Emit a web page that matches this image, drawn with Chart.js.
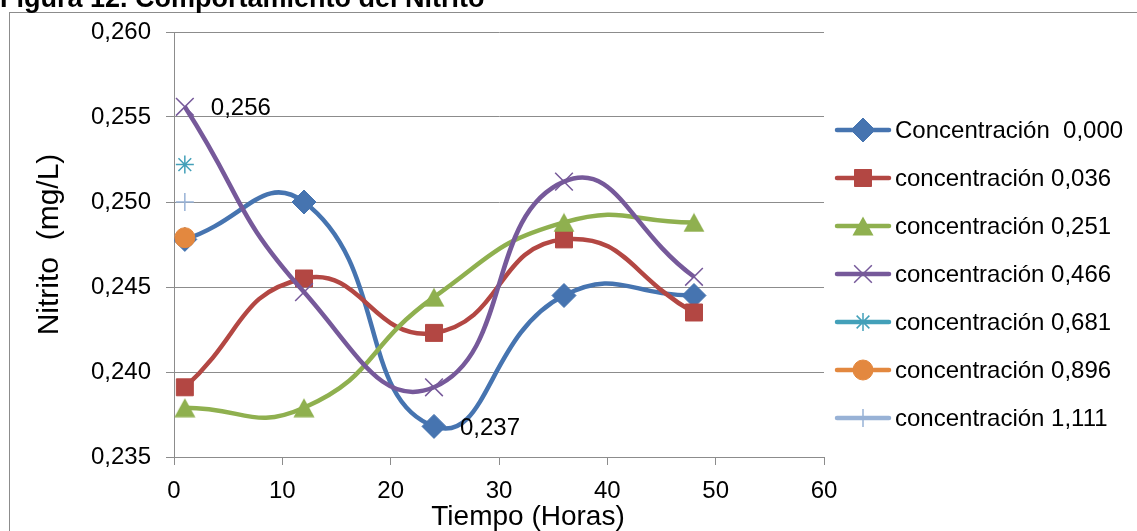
<!DOCTYPE html>
<html>
<head>
<meta charset="utf-8">
<script src="https://cdn.jsdelivr.net/npm/chart.js@4.4.1/dist/chart.umd.min.js"></script>
<style>
  html, body { margin: 0; padding: 0; background: #fff; overflow: hidden; }
  #wrap { position: relative; width: 1137px; height: 531px; }
</style>
</head>
<body>
<div id="wrap"><canvas id="nitritoChart"></canvas></div>
<script>
// Datos
const horas = [1, 12, 24, 36, 48];
const conc000 = [0.2478, 0.2500, 0.2368, 0.2445, 0.2445];
const conc036 = [0.2391, 0.2455, 0.2423, 0.2478, 0.2435];
const conc251 = [0.2379, 0.2379, 0.2444, 0.2488, 0.2488];
const conc466 = [0.2556, 0.2447, 0.2391, 0.2512, 0.2456];
const conc681 = [0.2522];
const conc896 = [0.2479];
const conc1111 = [0.2500];
const nombres = ['Concentración  0,000', 'concentración 0,036', 'concentración 0,251',
  'concentración 0,466', 'concentración 0,681', 'concentración 0,896', 'concentración 1,111'];
const valores = [conc000, conc036, conc251, conc466, conc681, conc896, conc1111];

// Estilos
const colores = ['#4674B0', '#B34743', '#8FB04F', '#76599A', '#43A0B9', '#E3883F', '#98B2D6'];
const fuente = '"Liberation Sans", Arial, sans-serif';

// triángulo centrado por su caja (como Excel)
function triangulo(color) {
  const c = document.createElement('canvas');
  c.width = 22; c.height = 20;
  const g = c.getContext('2d');
  g.fillStyle = color;
  g.beginPath();
  g.moveTo(11, 0.5);
  g.lineTo(21.5, 19.5);
  g.lineTo(0.5, 19.5);
  g.closePath();
  g.fill();
  return c;
}

const marcadores = ['rectRot', 'rect', triangulo(colores[2]), 'crossRot', 'star', 'circle', 'cross'];
const radios = [12, 12, 11, 12.5, 9, 10, 9];
const bordes = [1, 1, 1, 1.5, 1.5, 1, 1.5];

const datasets = valores.map((vals, i) => ({
  label: nombres[i],
  data: vals.map((v, j) => ({ x: horas[j], y: v })),
  borderColor: colores[i],
  backgroundColor: colores[i],
  borderWidth: 4.5,
  tension: 0.5,
  pointStyle: marcadores[i],
  pointRadius: radios[i],
  pointBackgroundColor: colores[i],
  pointBorderColor: colores[i],
  pointBorderWidth: bordes[i],
  order: valores.length - i
}));

// marco, título y título del eje X
const marcoPlugin = {
  id: 'marco',
  beforeDraw(chart) {
    const ctx = chart.ctx;
    ctx.save();
    ctx.strokeStyle = '#8C8C8C';
    ctx.lineWidth = 1;
    ctx.strokeRect(9.5, 12.5, 1400, 800);
    ctx.fillStyle = '#000';
    ctx.font = 'bold 27px ' + fuente;
    ctx.textBaseline = 'alphabetic';
    ctx.textAlign = 'left';
    ctx.fillText('Figura 12. Comportamiento del Nitrito', 0, 7);
    const a = chart.chartArea;
    ctx.font = '28px ' + fuente;
    ctx.textAlign = 'center';
    ctx.textBaseline = 'middle';
    ctx.fillText('Tiempo (Horas)', (a.left + a.right) / 2 + 29, 517);
    ctx.restore();
  }
};

// etiquetas de datos 0,256 y 0,237
const etiquetas = [[3, 0], [0, 2]];
const etiquetasPlugin = {
  id: 'etiquetas',
  afterDatasetsDraw(chart) {
    const ctx = chart.ctx;
    ctx.save();
    ctx.fillStyle = '#000';
    ctx.font = '24px ' + fuente;
    ctx.textAlign = 'left';
    ctx.textBaseline = 'middle';
    etiquetas.forEach(([d, p]) => {
      const el = chart.getDatasetMeta(d).data[p];
      const v = chart.data.datasets[d].data[p].y;
      ctx.fillText(v.toFixed(3).replace('.', ','), el.x + 26, el.y + 2);
    });
    ctx.restore();
  }
};

// leyenda con línea y marcador
const leyendaPlugin = {
  id: 'leyenda',
  afterDraw(chart) {
    const ctx = chart.ctx;
    ctx.save();
    chart.data.datasets.forEach((ds, i) => {
      const y = 130 + i * 48;
      ctx.strokeStyle = ds.borderColor;
      ctx.lineWidth = 4.5;
      ctx.lineCap = 'round';
      ctx.beginPath();
      ctx.moveTo(837, y);
      ctx.lineTo(889, y);
      ctx.stroke();
      ctx.lineCap = 'butt';
      ctx.fillStyle = ds.pointBackgroundColor;
      ctx.strokeStyle = ds.pointBorderColor;
      ctx.lineWidth = ds.pointBorderWidth;
      Chart.helpers.drawPoint(ctx, {
        pointStyle: ds.pointStyle, radius: ds.pointRadius, rotation: 0, borderWidth: ds.pointBorderWidth
      }, 863, y);
      ctx.fillStyle = '#000';
      ctx.font = '24px ' + fuente;
      ctx.textAlign = 'left';
      ctx.textBaseline = 'middle';
      ctx.fillText(ds.label, 895, y + 1);
    });
    ctx.restore();
  }
};

const ctx = document.getElementById('nitritoChart').getContext('2d');
new Chart(ctx, {
  type: 'line',
  data: { datasets: datasets },
  options: {
    responsive: true,
    maintainAspectRatio: false,
    animation: false,
    layout: { padding: { left: 10, top: 32, right: 313, bottom: 0 } },
    plugins: {
      legend: { display: false },
      tooltip: { enabled: false },
      title: { display: false }
    },
    scales: {
      x: {
        type: 'linear',
        min: 0,
        max: 60,
        afterFit: s => { s.height = 74; },
        ticks: { stepSize: 10, color: '#000', font: { family: fuente, size: 24 }, padding: 12, maxRotation: 0 },
        grid: { drawOnChartArea: false, drawTicks: true, tickLength: 8, color: '#8C8C8C' },
        border: { color: '#8C8C8C' }
      },
      y: {
        min: 0.235,
        max: 0.260,
        afterFit: s => { s.width = 164; },
        ticks: {
          stepSize: 0.005, color: '#000', font: { family: fuente, size: 24 }, padding: 15,
          callback: v => v.toFixed(3).replace('.', ',')
        },
        grid: { color: '#8C8C8C', tickLength: 8 },
        border: { color: '#8C8C8C' },
        title: { display: true, text: 'Nitrito  (mg/L)', color: '#000', font: { family: fuente, size: 30 }, padding: { top: 22, bottom: 0 } }
      }
    }
  },
  plugins: [marcoPlugin, etiquetasPlugin, leyendaPlugin]
});
</script>
</body>
</html>
